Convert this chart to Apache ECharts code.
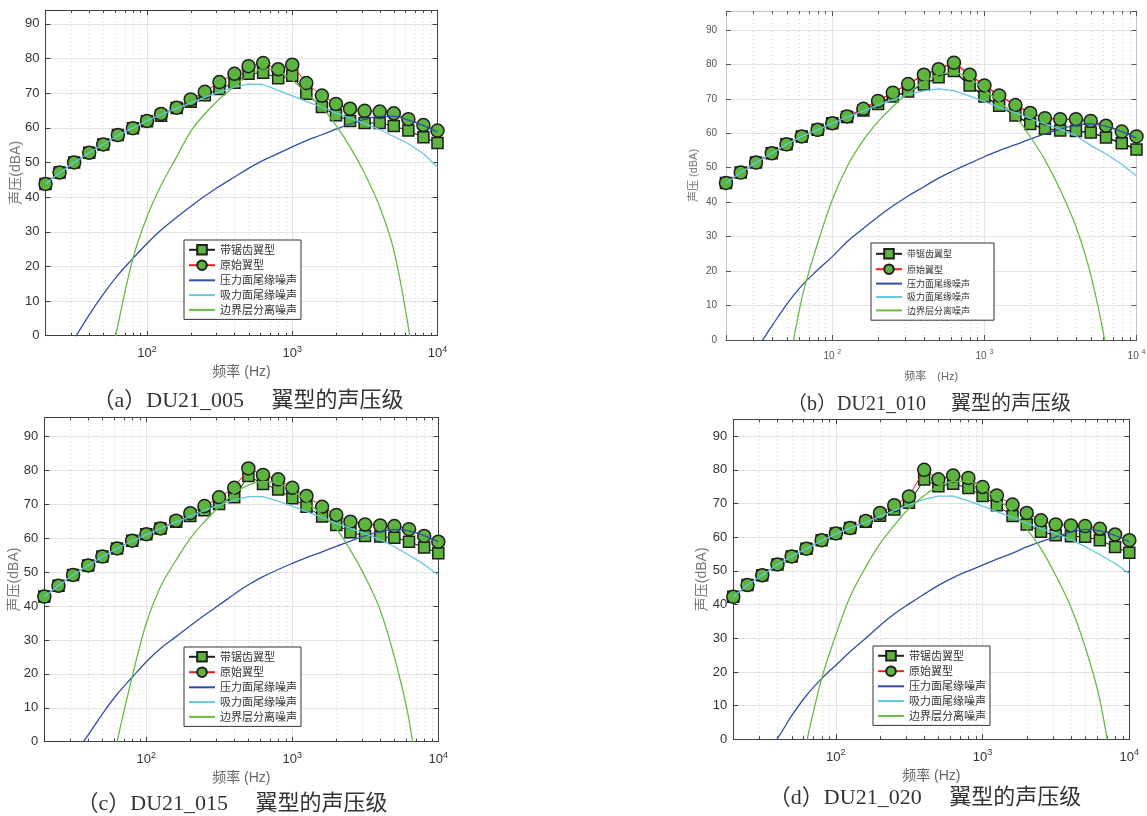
<!DOCTYPE html>
<html lang="zh">
<head>
<meta charset="UTF-8" />
<title>翼型的声压级</title>
<script src="https://cdn.jsdelivr.net/npm/echarts@6.0.0/dist/echarts.min.js"></script>
<style>
  html, body { margin: 0; padding: 0; background: #fff; }
  #chart { width: 1147px; height: 816px; }
</style>
</head>
<body>
<div id="chart"></div>
<script>
// 1/3 倍频程中心频率
const freqs = [20, 25, 31.5, 40, 50, 63, 80, 100, 125, 160, 200, 250, 315, 400, 500, 630, 800, 1000, 1250, 1600, 2000, 2500, 3150, 4000, 5000, 6300, 8000, 10000];
const minorFreqs = [30, 40, 50, 60, 70, 80, 90, 200, 300, 400, 500, 600, 700, 800, 900, 2000, 3000, 4000, 5000, 6000, 7000, 8000, 9000];
const names = ['带锯齿翼型', '原始翼型', '压力面尾缘噪声', '吸力面尾缘噪声', '边界层分离噪声'];

// (a) DU21_005
const sawA = [43.8, 47.1, 50.0, 52.8, 55.2, 57.9, 59.9, 61.9, 63.5, 65.7, 67.5, 69.4, 71.2, 73.0, 75.6, 75.9, 74.3, 75.0, 69.8, 66.0, 63.6, 62.0, 61.4, 61.4, 60.5, 59.2, 57.3, 55.6];
const origA = [43.8, 47.1, 50.0, 52.8, 55.2, 57.9, 59.9, 62.0, 64.0, 65.8, 68.2, 70.4, 73.2, 75.6, 77.8, 78.7, 76.9, 78.2, 72.9, 69.3, 66.9, 65.5, 64.9, 64.7, 64.2, 62.5, 60.8, 59.2];
const pressA = [null, null, -1, 6, 12, 17.5, 22.3, 26.6, 30.5, 34.2, 37.3, 40.3, 43.1, 45.8, 48.3, 50.6, 52.6, 54.5, 56.3, 58.0, 59.6, 61.1, 62.4, 63.3, 63.3, 62.2, 60.6, 58.8];
const suctA = [43.8, 47, 50, 52.8, 55.2, 57.8, 60, 62, 63.8, 65.6, 67.2, 68.8, 70.3, 71.8, 72.6, 72.5, 70.8, 69.2, 67.6, 66, 64.3, 62.8, 61.2, 59.5, 57.5, 55.4, 52.5, 48.7];
const sepA = [null, null, null, null, -18, 3, 22.3, 34.3, 43.4, 51.6, 59, 64, 68.3, 72, 75.2, 77.0, 76.3, 73.8, 70, 66, 60.7, 54.5, 46.8, 37.2, 24.7, 2.5, -28, null];

// (b) DU21_010
const sawB = [45.6, 48.6, 51.5, 54.2, 56.8, 59.1, 61.0, 62.9, 64.7, 66.6, 68.5, 70.7, 72.1, 74.2, 76.3, 78.1, 73.9, 70.7, 68.0, 65.2, 62.7, 61.3, 60.8, 60.7, 60.2, 58.8, 57.1, 55.3];
const origB = [45.6, 48.6, 51.5, 54.2, 56.8, 59.1, 61.0, 62.9, 64.9, 67.1, 69.4, 71.8, 74.3, 77.0, 78.6, 80.5, 77.0, 73.9, 71.0, 68.2, 65.9, 64.4, 64.1, 64.1, 63.6, 62.2, 60.5, 59.1];
const pressB = [null, null, -3, 4, 10.3, 15.8, 20.3, 24.2, 28.5, 32.4, 35.8, 38.9, 41.8, 44.5, 47, 49.2, 51.3, 53.2, 55, 56.7, 58.3, 59.8, 61.2, 62.4, 62.7, 62, 60.5, 58.6];
const suctB = [45.6, 48.6, 51.5, 54.2, 56.8, 59.1, 61, 62.9, 64.7, 66.5, 68.2, 69.8, 71.3, 72.3, 72.9, 72.4, 70.8, 69.2, 67.6, 66, 64.3, 62.7, 61.2, 59.3, 56.5, 54, 51, 47.6];
const sepB = [null, null, null, null, -12, 12, 28, 40.7, 50.3, 58, 63.4, 67.8, 71.6, 75, 77, 77.6, 76, 72.6, 69.2, 64.9, 59, 52.3, 43.6, 32.9, 19, -2, -30, null];

// (c) DU21_015
const sawC = [42.8, 46.0, 49.2, 52.0, 54.6, 57.0, 59.3, 61.2, 62.9, 64.9, 66.6, 68.3, 70.1, 72.1, 78.4, 76.0, 74.4, 71.8, 69.3, 66.4, 63.9, 61.8, 60.7, 60.5, 60.2, 59.0, 57.3, 55.6];
const origC = [42.8, 46.0, 49.2, 52.0, 54.6, 57.0, 59.3, 61.2, 62.9, 65.2, 67.4, 69.5, 72.1, 74.9, 80.6, 78.7, 77.4, 74.9, 72.5, 69.3, 66.9, 64.9, 64.1, 63.8, 63.6, 62.7, 60.7, 59.0];
const pressC = [null, null, -4, 2, 8.2, 14, 19, 23.6, 27.5, 31, 34.2, 37.3, 40.3, 43.5, 46.3, 48.7, 50.8, 52.6, 54.3, 56, 57.6, 59.2, 60.7, 62, 62.6, 62.2, 60.8, 59];
const suctC = [42.8, 46, 49.2, 52, 54.6, 57, 59.2, 61.1, 62.9, 64.8, 66.5, 68.2, 69.8, 71.3, 72.3, 72.3, 71, 69.5, 67.9, 66.2, 64.4, 62.9, 61.4, 59.6, 57.5, 55, 52.3, 49.2];
const sepC = [null, null, null, null, -20, 0, 19.2, 35, 45.7, 53.6, 60, 64.9, 69.3, 73.3, 75.7, 76.7, 76.2, 74.2, 70.8, 66.9, 62.9, 56.5, 48.7, 38.8, 25, 6.4, -25, null];

// (d) DU21_020
const sawD = [42.3, 45.8, 48.7, 51.9, 54.3, 56.6, 59.1, 61.1, 62.7, 64.6, 66.4, 68.2, 70.2, 77.1, 75.1, 75.9, 74.6, 72.2, 69.5, 66.3, 63.8, 61.6, 60.6, 60.3, 60.1, 59.1, 57.1, 55.4];
const origD = [42.3, 45.8, 48.7, 51.9, 54.3, 56.6, 59.1, 61.1, 62.7, 64.8, 67.2, 69.5, 72.1, 80.0, 77.2, 78.3, 77.6, 74.9, 72.4, 69.7, 67.2, 65.0, 63.8, 63.5, 63.3, 62.5, 60.8, 59.1];
const pressD = [null, null, -5, 0.3, 7, 13, 18, 22, 26, 30, 33.8, 37.2, 40.2, 43.1, 45.7, 48, 50, 51.7, 53.5, 55.3, 57.1, 58.7, 60.1, 61.5, 62.3, 61.9, 60.5, 58.6];
const suctD = [42.3, 45.8, 48.7, 51.9, 54.3, 56.6, 59, 61, 62.7, 64.5, 66.2, 67.9, 69.6, 71.2, 72.2, 72.2, 70.8, 69.2, 67.6, 65.9, 64.2, 62.6, 61.1, 59.3, 57.2, 54.8, 52.2, 49.2];
const sepD = [null, null, null, null, -22, -1, 18, 31, 42.3, 51.2, 58.1, 63.5, 68.5, 72.4, 75.1, 76.6, 76.6, 74.7, 71.4, 67.5, 62.5, 56.6, 48.7, 39.3, 27.5, 11.7, -15, null];

const SANS = "'Liberation Sans', 'Noto Sans CJK SC', sans-serif";
const CJK = "'Liberation Sans', 'Noto Sans CJK SC'";
const CAP = "'Liberation Serif', 'Noto Sans CJK SC', serif";
const GREEN_FILL = '#5db540';

// 版面：每个子图的位置和风格
const panels = [
  { caption: '（a）DU21_005\u3000 翼型的声压级', capX: 248, capY: 390, capSize: 22,
    grid: { left: 45.5, top: 10, width: 392, height: 325.7 }, ymax: 94,
    legend: { left: 184, top: 240, padding: [4, 4, 4, 4], font: 11 },
    xname: '频率 (Hz)', yname: '声压(dBA)', xGap: 29, yGap: 22, lab: 13, nameSize: 14,
    axis: '#404040', side: '#404040', labColor: '#333', sup: false, lw: 1,
    data: [sawA, origA, pressA, suctA, sepA] },
  { caption: '（b）DU21_010\u3000 翼型的声压级', capX: 929, capY: 395, capSize: 20,
    grid: { left: 726, top: 11, width: 410.5, height: 329 }, ymax: 95.5,
    legend: { left: 871, top: 243, padding: [5, 24, 5, 4], font: 9 },
    xname: '频率\u3000(Hz)', yname: '声压 (dBA)', xGap: 31, yGap: 27, lab: 10, nameSize: 11,
    axis: '#555', side: '#c8c8c8', labColor: '#555', sup: true, lw: 1.5,
    data: [sawB, origB, pressB, suctB, sepB] },
  { caption: '（c）DU21_015\u3000 翼型的声压级', capX: 232, capY: 793, capSize: 22,
    grid: { left: 44.3, top: 417.3, width: 394, height: 324.4 }, ymax: 95.7,
    legend: { left: 184, top: 647, padding: [4, 4, 4, 4], font: 11 },
    xname: '频率 (Hz)', yname: '声压(dBA)', xGap: 29.5, yGap: 23, lab: 13, nameSize: 14,
    axis: '#404040', side: '#404040', labColor: '#333', sup: false, lw: 1,
    data: [sawC, origC, pressC, suctC, sepC] },
  { caption: '（d）DU21_020\u3000 翼型的声压级', capX: 925, capY: 787, capSize: 22,
    grid: { left: 733.3, top: 419.3, width: 396, height: 320 }, ymax: 95,
    legend: { left: 873, top: 646, padding: [4, 4, 4, 4], font: 11 },
    xname: '频率 (Hz)', yname: '声压(dBA)', xGap: 29.5, yGap: 24, lab: 13, nameSize: 14,
    axis: '#404040', side: '#404040', labColor: '#333', sup: false, lw: 1,
    data: [sawD, origD, pressD, suctD, sepD] }
];

function pairs(ys) {
  const out = [];
  ys.forEach((v, i) => { if (v !== null) out.push([freqs[i], v]); });
  return out;
}

function logLabel(p) {
  return function (v) {
    const e = Math.round(Math.log10(v));
    if (Math.abs(Math.pow(10, e) - v) > 1e-6 * v) return '';
    return p.sup ? '10 {s|' + e + '}' : '10{s|' + e + '}';
  };
}

// 线条图例不画圆点
const legendData = names.map((n, k) => (k < 2 ? n : { name: n, itemStyle: { opacity: 0 } }));

const option = {
  animation: false,
  backgroundColor: '#fff',
  title: [], grid: [], xAxis: [], yAxis: [], legend: [], series: []
};

panels.forEach((p, i) => {
  option.grid.push(Object.assign({ show: false, containLabel: false, outerBoundsMode: 'none' }, p.grid));
  option.title.push({
    text: p.caption, left: p.capX, top: p.capY, textAlign: 'center', padding: 0,
    textStyle: { fontSize: p.capSize, fontWeight: 'normal', color: '#333', fontFamily: CAP }
  });

  const xCommon = { type: 'log', logBase: 10, min: 20, max: 10000, gridIndex: i };
  option.xAxis.push(Object.assign({}, xCommon, {
    position: 'bottom',
    name: p.xname, nameLocation: 'middle', nameGap: p.xGap, nameMoveOverlap: false,
    nameTextStyle: { fontSize: p.nameSize, color: '#666', fontFamily: CJK },
    axisLine: { show: true, onZero: false, lineStyle: { color: p.axis, width: 1 } },
    axisTick: { show: true, inside: true, length: 5, lineStyle: { color: p.axis } },
    axisLabel: {
      margin: 9, color: p.labColor, fontSize: p.lab, fontFamily: SANS, formatter: logLabel(p),
      rich: { s: { fontSize: Math.round(p.lab * 0.7), fontFamily: SANS, color: p.labColor, padding: [0, 0, p.lab * 0.7, 0] } }
    },
    splitLine: { show: true, lineStyle: { color: '#e4e4e4', width: 1 } }
  }));
  option.xAxis.push(Object.assign({}, xCommon, {
    position: 'top',
    axisLine: { show: true, onZero: false, lineStyle: { color: p.side, width: 1 } },
    axisTick: { show: true, inside: true, length: 5, lineStyle: { color: p.axis } },
    axisLabel: { show: false }, splitLine: { show: false }
  }));

  const yCommon = { type: 'value', min: 0, max: p.ymax, interval: 10, gridIndex: i };
  option.yAxis.push(Object.assign({}, yCommon, {
    position: 'left',
    name: p.yname, nameLocation: 'middle', nameGap: p.yGap, nameMoveOverlap: false,
    nameTextStyle: { fontSize: p.nameSize, color: '#777', fontFamily: CJK },
    axisLine: { show: true, lineStyle: { color: p.side === '#c8c8c8' ? p.side : p.axis, width: 1 } },
    axisTick: { show: true, inside: true, length: 5, lineStyle: { color: p.axis } },
    axisLabel: {
      margin: p.sup ? 9 : 6, color: p.labColor, fontSize: p.lab, fontFamily: SANS,
      formatter: v => (v % 10 === 0 ? String(v) : '')
    },
    splitLine: { show: true, lineStyle: { color: '#e4e4e4', width: 1 } }
  }));
  option.yAxis.push(Object.assign({}, yCommon, {
    position: 'right',
    axisLine: { show: true, lineStyle: { color: p.side, width: 1 } },
    axisTick: { show: true, inside: true, length: 5, lineStyle: { color: p.axis } },
    axisLabel: { show: false }, splitLine: { show: false }
  }));

  const xi = 2 * i, yi = 2 * i;

  // 次网格线（虚线）和次刻度
  option.series.push({
    type: 'custom', xAxisIndex: xi, yAxisIndex: yi, silent: true, z: 1,
    data: minorFreqs.map(f => [f, 0]),
    renderItem: function (params, api) {
      const x = Math.round(api.coord([api.value(0), 0])[0]) + 0.5;
      const cs = params.coordSys;
      return {
        type: 'group', children: [
          { type: 'line', shape: { x1: x, y1: cs.y, x2: x, y2: cs.y + cs.height },
            style: { stroke: '#d2d2d2', lineWidth: 1, lineDash: [1, 3] } },
          { type: 'line', shape: { x1: x, y1: cs.y + cs.height, x2: x, y2: cs.y + cs.height - 3 },
            style: { stroke: p.axis, lineWidth: 1 } },
          { type: 'line', shape: { x1: x, y1: cs.y, x2: x, y2: cs.y + 3 },
            style: { stroke: p.axis, lineWidth: 1 } }
        ]
      };
    }
  });

  const d = p.data;
  option.series.push({
    name: names[0], type: 'line', xAxisIndex: xi, yAxisIndex: yi, z: 3,
    data: pairs(d[0]), symbol: 'rect', symbolSize: 11,
    lineStyle: { color: '#1e1e1e', width: p.lw },
    itemStyle: { color: GREEN_FILL, borderColor: '#1e1e1e', borderWidth: 1.5 }
  });
  option.series.push({
    name: names[1], type: 'line', xAxisIndex: xi, yAxisIndex: yi, z: 4,
    data: pairs(d[1]), symbol: 'circle', symbolSize: 13,
    lineStyle: { color: '#ff1a1a', width: p.lw },
    itemStyle: { color: GREEN_FILL, borderColor: '#1e1e1e', borderWidth: 1.5 }
  });
  option.series.push({
    name: names[2], type: 'line', xAxisIndex: xi, yAxisIndex: yi, z: 5,
    data: pairs(d[2]), symbol: 'none', smooth: 0.4,
    lineStyle: { color: '#2f4fa3', width: 1.3 }, itemStyle: { color: '#2f4fa3' }
  });
  option.series.push({
    name: names[3], type: 'line', xAxisIndex: xi, yAxisIndex: yi, z: 5,
    data: pairs(d[3]), symbol: 'none',
    lineStyle: { color: '#66c8e0', width: 1.3 }, itemStyle: { color: '#66c8e0' }
  });
  option.series.push({
    name: names[4], type: 'line', xAxisIndex: xi, yAxisIndex: yi, z: 5,
    data: pairs(d[4]), symbol: 'none', smooth: 0.35,
    lineStyle: { color: '#66bb47', width: 1.3 }, itemStyle: { color: '#66bb47' }
  });

  option.legend.push({
    data: legendData, orient: 'vertical', left: p.legend.left, top: p.legend.top,
    padding: p.legend.padding, itemWidth: 26, itemHeight: 12, itemGap: 3.8,
    backgroundColor: '#fff', borderColor: '#333', borderWidth: 1, borderRadius: 0,
    selectedMode: false, z: 10,
    textStyle: { fontSize: p.legend.font, color: '#333', fontFamily: "'Noto Sans CJK SC'" }
  });
});

const chart = echarts.init(document.getElementById('chart'), null, { renderer: 'canvas' });
chart.setOption(option);
</script>
</body>
</html>
